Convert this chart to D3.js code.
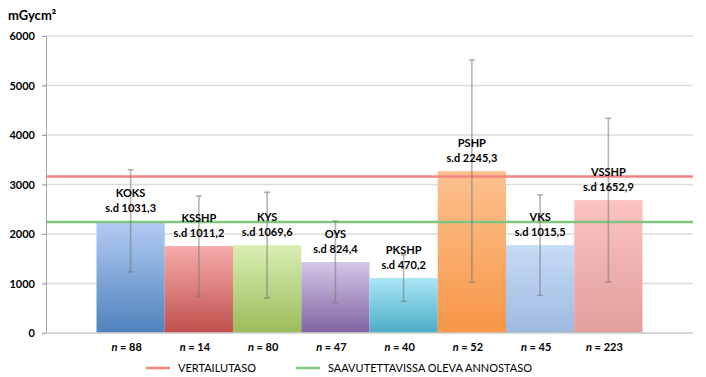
<!DOCTYPE html>
<html>
<head>
<meta charset="utf-8">
<script src="https://cdn.jsdelivr.net/npm/d3@7"></script>
<style>
	body { margin: 0; background: #fff; }
	text { font-family: Lato, "Liberation Sans", sans-serif; fill: #000; }
</style>
</head>
<body>
<div id="chart-area"></div>
<script>

// data
let hospitals = ["KOKS", "KSSHP", "KYS", "OYS", "PKSHP", "PSHP", "VKS", "VSSHP"];
let meanDose = [2265, 1755, 1775, 1435, 1110, 3270, 1775, 2685];
let sdDose = [1031.3, 1011.2, 1069.6, 824.4, 470.2, 2245.3, 1015.5, 1652.9];
let sampleSize = [88, 14, 80, 47, 40, 52, 45, 223];
let yTicks = [0, 1000, 2000, 3000, 4000, 5000, 6000];
let refNames = ["VERTAILUTASO", "SAAVUTETTAVISSA OLEVA ANNOSTASO"];
let refValues = [3160, 2240];

// bar colours (light top, dark bottom)
let topColors = ["#b3cdf3", "#f6abab", "#d9efb3", "#d4c6e8", "#abe6f7", "#fbc18f", "#c8dbf6", "#fcc3c3"];
let bottomColors = ["#4f81bd", "#c0504d", "#9bbb59", "#8064a2", "#4bacc6", "#f79646", "#9db8e0", "#e09e9c"];
let refColors = ["#f4847e", "#80c47f"];

class BarChart {

	constructor(parentElement) {
		this.parentElement = parentElement;
		this.displayData = hospitals.map((h, i) => ({
			name: h, mean: meanDose[i], sd: sdDose[i], n: sampleSize[i], i: i
		}));
		this.initVis();
	}

	initVis() {
		let vis = this;

		vis.margin = {top: 36, right: 13, bottom: 44, left: 46};
		vis.width = 706 - vis.margin.left - vis.margin.right;
		vis.height = 377 - vis.margin.top - vis.margin.bottom;

		vis.root = d3.select("#" + vis.parentElement)
			.append("svg")
			.attr("width", 706)
			.attr("height", 377);

		// gradients
		let defs = vis.root.append("defs");
		vis.displayData.forEach(d => {
			let g = defs.append("linearGradient")
				.attr("id", "grad" + d.i)
				.attr("x1", 0).attr("y1", 0).attr("x2", 0).attr("y2", 1);
			g.append("stop").attr("offset", "0%").attr("stop-color", topColors[d.i]);
			g.append("stop").attr("offset", "100%").attr("stop-color", bottomColors[d.i]);
		});

		vis.svg = vis.root.append("g")
			.attr("transform", "translate(" + vis.margin.left + "," + vis.margin.top + ")");

		// unit title
		vis.root.append("text")
			.text("mGycm²")
			.attr("x", 8)
			.attr("y", 20)
			.attr("font-size", 13)
			.attr("font-weight", "bold");

		vis.x = d3.scaleBand()
			.domain(hospitals)
			.range([0, vis.width])
			.paddingInner(0)
			.paddingOuter(0.74);

		vis.y = d3.scaleLinear()
			.domain([0, 6000])
			.range([vis.height, 0]);

		vis.updateVis();
	}

	updateVis() {
		let vis = this;

		// gridlines
		vis.svg.selectAll(".grid")
			.data(yTicks)
			.enter().append("line")
			.attr("class", "grid")
			.attr("x1", -4)
			.attr("x2", vis.width)
			.attr("y1", d => vis.y(d))
			.attr("y2", d => vis.y(d))
			.attr("stroke", "#dcdcdc")
			.attr("stroke-width", 1.5);

		// y axis
		let yAxis = d3.axisLeft(vis.y)
			.tickValues(yTicks)
			.tickSize(4)
			.tickPadding(7)
			.tickFormat(d3.format("d"));

		let yg = vis.svg.append("g")
			.attr("class", "y-axis axis")
			.call(yAxis);
		yg.select(".domain").attr("stroke", "#a6a6a6");
		yg.selectAll(".tick line").attr("stroke", "#a6a6a6");
		yg.selectAll(".tick text")
			.attr("font-size", 11)
			.attr("font-weight", "bold")
			.attr("font-family", "Lato, sans-serif")
			.attr("fill", "#000");

		// bars
		vis.svg.selectAll(".bar")
			.data(vis.displayData)
			.enter().append("rect")
			.attr("class", "bar")
			.attr("x", d => vis.x(d.name))
			.attr("y", d => vis.y(d.mean))
			.attr("width", vis.x.bandwidth())
			.attr("height", d => vis.height - vis.y(d.mean))
			.attr("fill", d => "url(#grad" + d.i + ")");

		// reference lines
		vis.svg.selectAll(".ref")
			.data(refValues)
			.enter().append("line")
			.attr("class", "ref")
			.attr("x1", 0)
			.attr("x2", vis.width)
			.attr("y1", d => vis.y(d))
			.attr("y2", d => vis.y(d))
			.attr("stroke", (d, i) => refColors[i])
			.attr("stroke-width", 2.5);

		// error bars
		let cx = d => vis.x(d.name) + vis.x.bandwidth() / 2;
		let err = vis.svg.selectAll(".err")
			.data(vis.displayData)
			.enter().append("g")
			.attr("class", "err")
			.attr("stroke", "rgba(120,120,120,0.55)")
			.attr("stroke-width", 1.6);
		err.append("line")
			.attr("x1", cx).attr("x2", cx)
			.attr("y1", d => vis.y(d.mean + d.sd))
			.attr("y2", d => vis.y(d.mean - d.sd));
		[1, -1].forEach(s => {
			err.append("line")
				.attr("x1", d => cx(d) - 3).attr("x2", d => cx(d) + 3)
				.attr("y1", d => vis.y(d.mean + s * d.sd))
				.attr("y2", d => vis.y(d.mean + s * d.sd));
		});

		// bar labels
		let labels = vis.svg.selectAll(".labels")
			.data(vis.displayData)
			.enter().append("text")
			.attr("class", "labels")
			.attr("text-anchor", "middle")
			.attr("font-size", 11)
			.attr("font-weight", "bold");
		labels.append("tspan")
			.attr("x", cx)
			.attr("y", d => vis.y(d.mean) - 24)
			.text(d => d.name);
		labels.append("tspan")
			.attr("x", cx)
			.attr("y", d => vis.y(d.mean) - 9)
			.text(d => "s.d " + String(d.sd.toFixed(1)).replace(".", ","));

		// bottom axis line
		vis.svg.append("line")
			.attr("x1", 0).attr("x2", vis.width)
			.attr("y1", vis.height).attr("y2", vis.height)
			.attr("stroke", "#d0d0d0")
			.attr("stroke-width", 1.5);

		// n labels
		let nl = vis.svg.selectAll(".nlab")
			.data(vis.displayData)
			.enter().append("text")
			.attr("class", "nlab")
			.attr("x", d => cx(d) - 4)
			.attr("y", vis.height + 18)
			.attr("text-anchor", "middle")
			.attr("font-size", 11)
			.attr("font-weight", "bold");
		nl.append("tspan").attr("font-style", "italic").text("n");
		nl.append("tspan").text(d => " = " + d.n);

		// legend
		let legX = [100, 250];
		let leg = vis.svg.selectAll(".legend")
			.data(refNames)
			.enter().append("g")
			.attr("class", "legend")
			.attr("transform", (d, i) => "translate(" + legX[i] + "," + (vis.height + 35) + ")");
		leg.append("line")
			.attr("x1", 0).attr("x2", 24)
			.attr("stroke", (d, i) => refColors[i])
			.attr("stroke-width", 2.5);
		leg.append("text")
			.attr("x", 32)
			.attr("y", 4)
			.attr("font-size", 11)
			.text(d => d);
	}
}

new BarChart("chart-area");

</script>
</body>
</html>
